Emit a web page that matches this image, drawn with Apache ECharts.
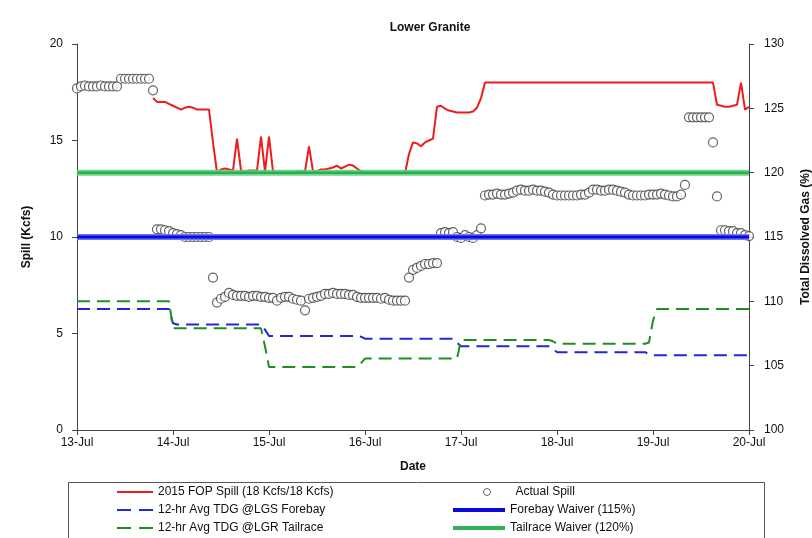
<!DOCTYPE html>
<html>
<head>
<meta charset="utf-8">
<script src="https://cdn.jsdelivr.net/npm/echarts@6/dist/echarts.min.js"></script>
<style>
html,body{margin:0;padding:0;background:#fff;}
#chart{width:812px;height:538px;}
</style>
</head>
<body>
<div id="chart"></div>
<script>
// ---- data (hourly, starting 13-Jul 00:00) ----
const startDay = 13;
const hoursPerDay = 24;
const xTickLabels = ['13-Jul','14-Jul','15-Jul','16-Jul','17-Jul','18-Jul','19-Jul','20-Jul'];
const seriesNames = ['2015 FOP Spill (18 Kcfs/18 Kcfs)','Actual Spill','12-hr Avg TDG @LGS Forebay','Forebay Waiver (115%)','12-hr Avg TDG @LGR Tailrace','Tailrace Waiver (120%)'];

const actualSpill = [
 17.7,17.8,17.85,17.8,17.8,17.8,17.85,17.8,17.8,17.8,17.8,
 18.2,18.2,18.2,18.2,18.2,18.2,18.2,18.2,
 17.6,
 10.4,10.4,10.35,10.3,10.2,10.15,10.1,10.0,10.0,10.0,10.0,10.0,10.0,10.0,
 7.9,
 6.6,6.8,6.9,7.1,7.0,6.95,6.95,6.95,6.9,6.95,6.95,6.9,6.9,6.85,6.85,
 6.7,6.85,6.9,6.9,6.8,6.75,6.7,6.2,6.8,6.85,6.9,6.95,
 7.05,7.05,7.1,7.05,7.05,7.05,7.0,7.0,
 6.9,6.85,6.85,6.85,6.85,6.85,6.8,6.85,6.75,6.7,6.7,6.7,6.7,
 7.9,8.3,8.4,8.5,8.6,8.6,8.65,8.65,
 10.2,10.25,10.2,10.25,10.0,9.95,10.1,10.0,9.95,10.1,10.45,
 12.15,12.2,12.2,12.25,12.2,12.2,12.25,12.3,
 12.4,12.45,12.4,12.4,12.45,12.4,12.4,12.35,12.3,
 12.2,12.15,12.15,12.15,12.15,12.15,12.15,12.2,12.2,12.3,
 12.45,12.45,12.4,12.4,12.45,12.45,12.4,12.35,12.3,
 12.2,12.15,12.15,12.15,12.15,12.2,12.2,12.2,12.25,12.2,12.15,12.1,12.1,12.2,
 12.7,
 16.2,16.2,16.2,16.2,16.2,16.2,
 14.9,
 12.1,
 10.35,10.35,10.3,10.3,10.2,10.2,10.1,10.05
];

const fopSpill = [
 null,null,null,null,null,null,null,null,null,null,null,null,null,null,null,null,null,null,null,
 17.2,17.0,17.0,17.0,16.9,16.8,16.7,16.6,16.7,16.75,16.7,16.6,16.6,16.6,16.6,14.9,
 13.35,13.5,13.55,13.5,13.45,15.1,13.45,13.4,13.45,13.45,13.45,15.2,13.4,15.2,13.4,
 13.3,13.3,13.3,13.3,13.3,13.35,13.4,13.4,14.7,13.4,13.4,
 13.5,13.5,13.55,13.6,13.7,13.55,13.65,13.75,13.7,13.55,13.4,13.3,
 13.3,13.3,13.3,13.3,13.3,13.3,13.3,13.3,13.3,13.3,
 14.3,14.9,14.85,14.7,14.9,15.0,15.1,16.75,16.8,16.65,16.55,16.5,16.45,16.45,16.45,16.45,16.5,16.7,17.2,
 18,18,18,18,18,18,18,18,18,18,18,18,18,18,18,18,18,18,18,18,
 18,18,18,18,18,18,18,18,18,18,18,18,18,18,18,18,18,18,18,18,
 18,18,18,18,18,18,18,18,18,18,18,18,18,18,18,18,18,18,
 16.85,16.8,16.75,16.75,16.8,16.85,18.0,16.6,16.75
];

const forebayTDG = [
 109.4,109.4,109.4,109.4,109.4,109.4,109.4,109.4,109.4,109.4,109.4,109.4,
 109.4,109.4,109.4,109.4,109.4,109.4,109.4,109.4,109.4,109.4,109.4,109.4,
 108.3,
 108.2,108.2,108.2,108.2,108.2,108.2,108.2,108.2,108.2,108.2,108.2,
 108.2,108.2,108.2,108.2,108.2,108.2,108.2,108.2,108.2,108.2,108.2,
 107.8,
 107.3,107.3,107.3,107.3,107.3,107.3,107.3,107.3,107.3,107.3,107.3,107.3,
 107.3,107.3,107.3,107.3,107.3,107.3,107.3,107.3,107.3,107.3,107.3,
 107.25,
 107.1,107.1,107.1,107.1,107.1,107.1,107.1,107.1,107.1,107.1,107.1,107.1,
 107.1,107.1,107.1,107.1,107.1,107.1,107.1,107.1,107.1,107.1,107.1,
 106.8,
 106.5,106.5,106.5,106.5,106.5,106.5,106.5,106.5,106.5,106.5,106.5,106.5,
 106.5,106.5,106.5,106.5,106.5,106.5,106.5,106.5,106.5,106.5,106.5,
 106.3,
 106.05,106.05,106.05,106.05,106.05,106.05,106.05,106.05,106.05,106.05,106.05,106.05,
 106.05,106.05,106.05,106.05,106.05,106.05,106.05,106.05,106.05,106.05,106.05,
 105.9,
 105.8,105.8,105.8,105.8,105.8,105.8,105.8,105.8,105.8,105.8,105.8,105.8,105.8,
 105.8,105.8,105.8,105.8,105.8,105.8,105.8,105.8,105.8,105.8,105.8,105.8
];

const tailraceTDG = [
 110,110,110,110,110,110,110,110,110,110,110,110,
 110,110,110,110,110,110,110,110,110,110,110,110,
 107.9,107.9,107.9,107.9,107.9,107.9,107.9,107.9,107.9,107.9,107.9,107.9,
 107.9,107.9,107.9,107.9,107.9,107.9,107.9,107.9,107.9,107.9,107.9,
 106.5,
 104.9,104.9,104.9,104.9,104.9,104.9,104.9,104.9,104.9,104.9,104.9,104.9,
 104.9,104.9,104.9,104.9,104.9,104.9,104.9,104.9,104.9,104.9,104.9,
 105.2,
 105.55,105.55,105.55,105.55,105.55,105.55,105.55,105.55,105.55,105.55,105.55,105.55,
 105.55,105.55,105.55,105.55,105.55,105.55,105.55,105.55,105.55,105.55,105.55,105.55,
 107,107,107,107,107,107,107,107,107,107,107,107,
 107,107,107,107,107,107,107,107,107,107,107,
 106.9,
 106.7,106.7,106.7,106.7,106.7,106.7,106.7,106.7,106.7,106.7,106.7,106.7,
 106.7,106.7,106.7,106.7,106.7,106.7,106.7,106.7,106.7,106.7,106.7,
 106.8,
 108.5,
 109.4,109.4,109.4,109.4,109.4,109.4,109.4,109.4,109.4,109.4,109.4,109.4,
 109.4,109.4,109.4,109.4,109.4,109.4,109.4,109.4,109.4,109.4,109.4,109.4
];

const forebayWaiver = 115;
const tailraceWaiver = 120;
const dayRange = [13, 20];

// ---- build ----
function toPairs(arr){ return arr.map((v,i)=>[startDay + i/hoursPerDay, v]); }
const FONT = "'Liberation Sans', Arial, sans-serif";
const chart = echarts.init(document.getElementById('chart'), null, {renderer:'canvas'});

const DASH_ICON = 'path://M0 0H14V2H0Z M22 0H36V2H22Z';
const legendText = {fontFamily:FONT, fontSize:12, color:'#111', lineHeight:14};

const option = {
  backgroundColor:'#fff',
  animation:false,
  textStyle:{fontFamily:FONT},
  grid:{left:77, right:63, top:44, bottom:108, containLabel:false, outerBoundsMode:'none'},
  graphic:[
    {type:'text', x:430, y:28, style:{text:'Lower Granite', font:"bold 12px "+FONT, fill:'#111', textAlign:'center', textVerticalAlign:'middle'}},
    {type:'rect', shape:{x:68.5, y:482.5, width:696, height:60}, style:{fill:'none', stroke:'#555', lineWidth:1}, z:-1}
  ],
  legend:[
    {data:[{name:seriesNames[0], icon:'rect'},{name:seriesNames[2], icon:DASH_ICON},{name:seriesNames[4], icon:DASH_ICON}],
     orient:'vertical', left:117, top:485, height:80, padding:0, itemWidth:36, itemHeight:2, itemGap:4,
     textStyle:legendText, selectedMode:false},
    {data:[{name:seriesNames[1], icon:'circle'}], orient:'vertical', left:483, top:485, height:40, padding:0, itemWidth:7, itemHeight:7, itemGap:4,
     itemStyle:{color:'#fff', borderColor:'#444', borderWidth:1},
     textStyle:Object.assign({}, legendText, {padding:[0,0,0,20]}), selectedMode:false},
    {data:[{name:seriesNames[3], icon:'rect'},{name:seriesNames[5], icon:'rect'}], orient:'vertical', left:453, top:503, height:60, padding:0, itemWidth:52, itemHeight:4, itemGap:4,
     textStyle:legendText, selectedMode:false}
  ],
  xAxis:{
    type:'value', min:dayRange[0], max:dayRange[1], interval:1,
    name:'Date', nameLocation:'middle', nameGap:31,
    nameTextStyle:{fontFamily:FONT, fontWeight:'bold', fontSize:12, color:'#111'},
    axisLine:{lineStyle:{color:'#444', width:1}},
    axisTick:{show:true, length:5, lineStyle:{color:'#444'}},
    axisLabel:{formatter:v=>xTickLabels[Math.round(v)-startDay], fontFamily:FONT, fontSize:12, color:'#111', margin:7},
    splitLine:{show:false}
  },
  yAxis:[
    {type:'value', min:0, max:20, interval:5, position:'left',
     name:'Spill (Kcfs)', nameLocation:'middle', nameGap:44, nameRotate:90,
     nameTextStyle:{fontFamily:FONT, fontWeight:'bold', fontSize:12, color:'#111'},
     axisLine:{show:true, lineStyle:{color:'#444'}},
     axisTick:{show:true, length:5, lineStyle:{color:'#444'}},
     axisLabel:{fontFamily:FONT, fontSize:12, color:'#111', margin:14},
     splitLine:{show:false}},
    {type:'value', min:100, max:130, interval:5, position:'right',
     name:'Total Dissolved Gas (%)', nameLocation:'middle', nameGap:51, nameRotate:90,
     nameTextStyle:{fontFamily:FONT, fontWeight:'bold', fontSize:12, color:'#111'},
     axisLine:{show:true, lineStyle:{color:'#444'}},
     axisTick:{show:true, length:5, lineStyle:{color:'#444'}},
     axisLabel:{fontFamily:FONT, fontSize:12, color:'#111', margin:15},
     splitLine:{show:false}}
  ],
  series:[
    {name:seriesNames[0], type:'line', yAxisIndex:0, data:toPairs(fopSpill), showSymbol:false, symbol:'none',
     lineStyle:{color:'#ee1c1c', width:2}, itemStyle:{color:'#ee1c1c'}, z:2},
    {name:seriesNames[1], type:'scatter', yAxisIndex:0, data:toPairs(actualSpill), symbol:'circle', symbolSize:9,
     itemStyle:{color:'#ffffff', borderColor:'#3c3c3c', borderWidth:1.2}, z:3},
    {name:seriesNames[2], type:'line', yAxisIndex:1, data:toPairs(forebayTDG), showSymbol:false, symbol:'none',
     lineStyle:{color:'#2128d8', width:2, type:[13,7]}, itemStyle:{color:'#2128d8'}, z:4},
    {name:seriesNames[4], type:'line', yAxisIndex:1, data:toPairs(tailraceTDG), showSymbol:false, symbol:'none',
     lineStyle:{color:'#1f8f23', width:2, type:[13,7]}, itemStyle:{color:'#1f8f23'}, z:4},
    {name:'fbw_halo', type:'line', yAxisIndex:1, data:[[dayRange[0],forebayWaiver],[dayRange[1],forebayWaiver]], showSymbol:false, symbol:'none',
     lineStyle:{color:'#6f78f2', width:6}, z:5, silent:true},
    {name:seriesNames[3], type:'line', yAxisIndex:1, data:[[dayRange[0],forebayWaiver],[dayRange[1],forebayWaiver]], showSymbol:false, symbol:'none',
     lineStyle:{color:'#0a0ad8', width:3}, itemStyle:{color:'#0a0ad8'}, z:6},
    {name:'trw_halo', type:'line', yAxisIndex:1, data:[[dayRange[0],tailraceWaiver],[dayRange[1],tailraceWaiver]], showSymbol:false, symbol:'none',
     lineStyle:{color:'#5fcf80', width:6, opacity:0.9}, z:5, silent:true},
    {name:seriesNames[5], type:'line', yAxisIndex:1, data:[[dayRange[0],tailraceWaiver],[dayRange[1],tailraceWaiver]], showSymbol:false, symbol:'none',
     lineStyle:{color:'#1ea84a', width:2.5, opacity:0.85}, itemStyle:{color:'#2db356'}, z:6}
  ]
};
chart.setOption(option);
</script>
</body>
</html>
